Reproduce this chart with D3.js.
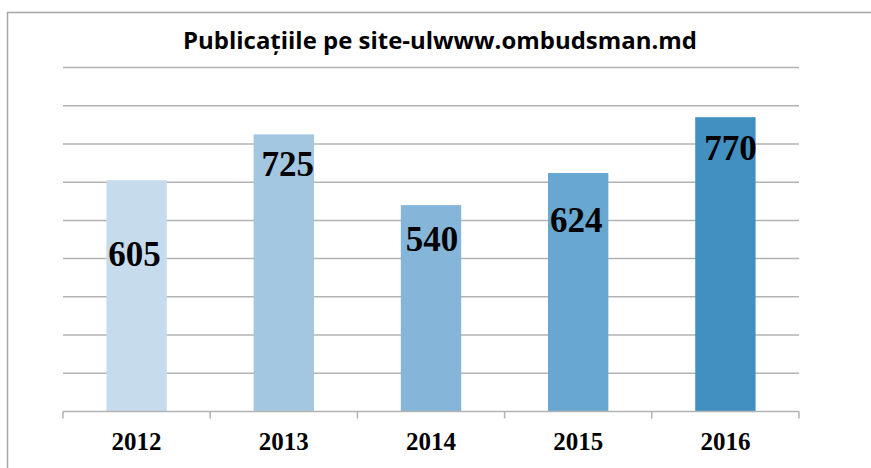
<!DOCTYPE html>
<html>
<head>
<meta charset="utf-8">
<script src="https://cdn.jsdelivr.net/npm/d3@7"></script>
<style>
  body { margin: 0; background: #fff; }
</style>
</head>
<body>
<div id="chart"></div>
<script>
// data
let years = ['2012', '2013', '2014', '2015', '2016'];
let values = [605, 725, 540, 624, 770];
let barColors = ['#c6dcec', '#a3c7e1', '#85b5d8', '#68a7cf', '#428fc2'];
let gridTicks = [0, 100, 200, 300, 400, 500, 600, 700, 800, 900];

// label offsets below bar top (labels were moved by hand in the original)
let labelDy = [86, 42, 46, 59, 43];
let labelDx = [-2, 4, 1, -2, 5];

let width = 871,
    height = 468;

let margin = {top: 67.5, bottom: 56.5, left: 63, right: 72};

let svg = d3.select('#chart')
            .append('svg')
            .attr('width', width)
            .attr('height', height)
            .style('display', 'block');

// frame (only top and left show)
svg.append('path')
  .attr('d', 'M7.5,468 L7.5,12.5 L871,12.5')
  .attr('fill', 'none')
  .attr('stroke', '#a6a6a6')
  .attr('stroke-width', 1.5);

// scales
let yScale = d3.scaleLinear()
              .domain([0, 900])
              .range([height - margin.bottom, margin.top]);

let xScale = d3.scaleBand()
              .domain(years)
              .range([margin.left, width - margin.right])
              .paddingInner(0.59)
              .paddingOuter(0.295);

// gridlines
svg.append('g')
  .selectAll('line')
  .data(gridTicks.slice(1))
  .enter()
  .append('line')
  .attr('x1', margin.left)
  .attr('x2', width - margin.right)
  .attr('y1', d => yScale(d))
  .attr('y2', d => yScale(d))
  .attr('stroke', '#b3b3b3')
  .attr('stroke-width', 1.5);

// bars
svg.selectAll('rect.bar')
  .data(values)
  .enter()
  .append('rect')
  .attr('class', 'bar')
  .attr('x', (d, i) => xScale(years[i]))
  .attr('y', d => yScale(d))
  .attr('width', xScale.bandwidth())
  .attr('height', d => yScale(0) - yScale(d))
  .attr('fill', (d, i) => barColors[i]);

// x axis
let step = xScale.step();
let xAxis = svg.append('g')
  .attr('transform', `translate(0,${yScale(0)})`)
  .call(d3.axisBottom(xScale).tickSize(0).tickPadding(0));
xAxis.select('.domain').remove();
xAxis.append('line')
  .attr('x1', margin.left).attr('x2', width - margin.right)
  .attr('stroke', '#b3b3b3').attr('stroke-width', 1.5);
xAxis.selectAll('.sep')
  .data(d3.range(years.length + 1))
  .enter()
  .append('line')
  .attr('class', 'sep')
  .attr('x1', i => margin.left + i * step)
  .attr('x2', i => margin.left + i * step)
  .attr('y1', 0).attr('y2', 7)
  .attr('stroke', '#b3b3b3').attr('stroke-width', 1.5);
xAxis.selectAll('.tick text')
  .attr('y', 38.5)
  .attr('dy', 0)
  .style('font-family', '"Liberation Serif", "Times New Roman", serif')
  .style('font-weight', 'bold')
  .style('font-size', '25px')
  .style('fill', '#000');

// value labels
svg.selectAll('text.val')
  .data(values)
  .enter()
  .append('text')
  .attr('class', 'val')
  .attr('x', (d, i) => xScale(years[i]) + xScale.bandwidth() / 2 + labelDx[i])
  .attr('y', (d, i) => yScale(d) + labelDy[i])
  .attr('text-anchor', 'middle')
  .style('font-family', '"Liberation Serif", "Times New Roman", serif')
  .style('font-weight', 'bold')
  .style('font-size', '35px')
  .style('fill', '#000')
  .text(d => d);

// title
svg.append('text')
  .attr('x', 440)
  .attr('y', 49)
  .attr('text-anchor', 'middle')
  .attr('textLength', 514)
  .attr('lengthAdjust', 'spacingAndGlyphs')
  .style('font-family', '"Open Sans", "Noto Sans", sans-serif')
  .style('font-weight', 'bold')
  .style('font-size', '23px')
  .style('fill', '#000')
  .text('Publicațiile pe site-ulwww.ombudsman.md');
</script>
</body>
</html>
